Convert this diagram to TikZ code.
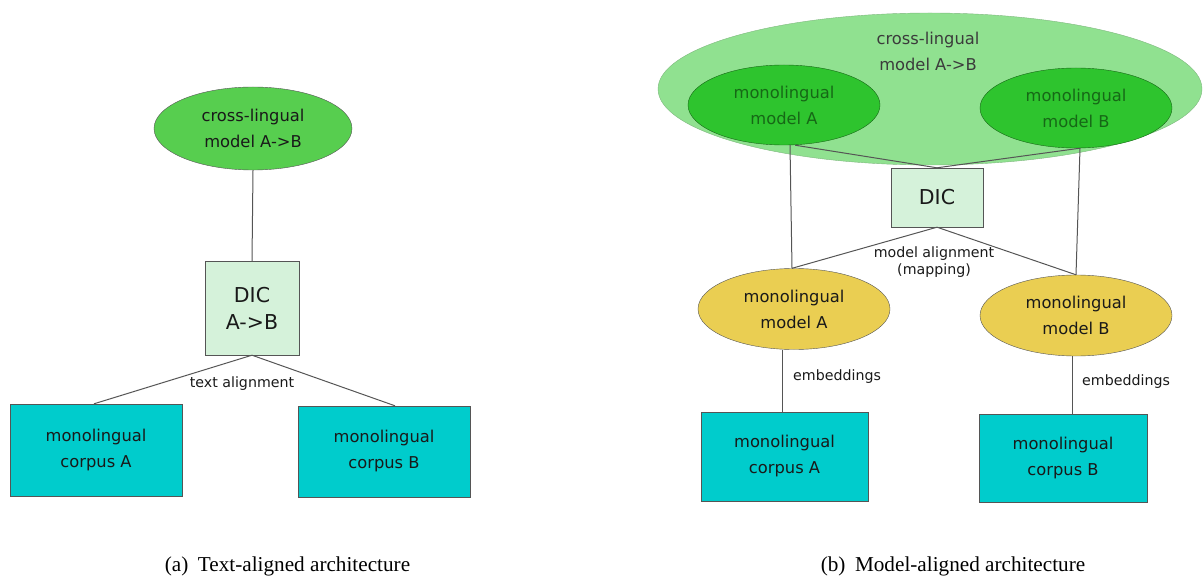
\documentclass[tikz,border=0pt]{standalone}
\usepackage{fontspec}
\setmainfont{Liberation Serif}
\newfontfamily\diafont{DejaVu Sans}
\usetikzlibrary{shapes.geometric}

\definecolor{crossgreen}{RGB}{87,206,79}
\definecolor{biggreen}{RGB}{144,225,144}
\definecolor{monogreen}{RGB}{46,196,46}
\definecolor{monodark}{RGB}{22,104,22}
\definecolor{dicfill}{RGB}{213,242,218}
\definecolor{modelyellow}{RGB}{234,206,82}
\definecolor{corpuscyan}{RGB}{0,204,204}
\definecolor{linegray}{RGB}{85,85,85}
\definecolor{textdark}{RGB}{25,25,25}

\begin{document}
\begin{tikzpicture}[x=1pt, y=-1pt]
      \tikzstyle{STY1} = [draw=linegray, ellipse, inner sep=0pt, minimum width=192pt, minimum height=81pt, align=center, text=textdark, font=\diafont\fontsize{16.3}{26}\selectfont]
      \tikzstyle{STY2} = [draw=linegray, rectangle, inner sep=0pt, align=center, text=textdark, font=\diafont\fontsize{16.3}{26}\selectfont]
      \tikzstyle{STY3} = [draw=linegray, rectangle, inner sep=0pt, fill=dicfill, align=center, text=textdark, font=\diafont\fontsize{20.5}{27}\selectfont]
      \tikzstyle{STY4} = [inner sep=0pt, align=center, text=textdark, font=\diafont\fontsize{14.2}{17}\selectfont]
      \tikzstyle{STY5} = [draw=linegray, line width=1pt]
      \tikzstyle{STY6} = [inner sep=0pt, anchor=base, font=\fontsize{21.2}{24}\selectfont]

      \useasboundingbox (0,0) rectangle (1204,577);

      %%%%% VERTEX (a)

      \node[STY1, fill=crossgreen, minimum width=198pt, minimum height=83pt](v0) at (253, 128.5) {cross-lingual\\model A->B};

      \node[STY3, minimum width=94pt, minimum height=94pt](v1) at (252, 308) {DIC\\A->B};

      \node[STY2, fill=corpuscyan, minimum width=172pt, minimum height=92pt](v2) at (96, 450) {monolingual\\corpus A};
      \node[STY2, fill=corpuscyan, minimum width=172pt, minimum height=91pt](v3) at (384, 451.5) {monolingual\\corpus B};

      \node[STY4](t0) at (242, 384) {text alignment};

      %%%%% VERTEX (b)

      \node[STY1, draw=biggreen!70!linegray, fill=biggreen, minimum width=544pt, minimum height=152pt](v4) at (930, 89) {};
      \node[STY4, font=\diafont\fontsize{16.3}{26}\selectfont, text=textdark!85](t1) at (928, 51) {cross-lingual\\model A->B};

      \node[STY1, draw=monodark, fill=monogreen, text=monodark, minimum height=80pt](v5) at (784, 105) {monolingual\\model A};
      \node[STY1, draw=monodark, fill=monogreen, text=monodark, minimum height=80pt](v6) at (1076, 108) {monolingual\\model B};

      \node[STY3, minimum width=92pt, minimum height=59pt](v7) at (937, 197.5) {DIC};

      \node[STY1, fill=modelyellow](v8) at (794, 309) {monolingual\\model A};
      \node[STY1, fill=modelyellow](v9) at (1076, 315.5) {monolingual\\model B};

      \node[STY2, fill=corpuscyan, minimum width=167pt, minimum height=89pt](v10) at (784.5, 456.5) {monolingual\\corpus A};
      \node[STY2, fill=corpuscyan, minimum width=168pt, minimum height=88pt](v11) at (1063, 458) {monolingual\\corpus B};

      \node[STY4](t2) at (934, 262) {model alignment\\(mapping)};
      \node[STY4, anchor=west](t3) at (793, 377) {embeddings};
      \node[STY4, anchor=west](t4) at (1082, 382) {embeddings};

      %%%%% EDGES (a)
      \draw[STY5]  (v0.south) edge (v1.north);
      \draw[STY5]  (v1.south) edge ([xshift=-2pt]v2.north);
      \draw[STY5]  (v1.south) edge ([xshift=11pt]v3.north);

      %%%%% EDGES (b)
      \draw[STY5]  ([xshift=11pt]v5.south) edge (v7.north);
      \draw[STY5]  ([xshift=4pt]v6.south) edge (v7.north);
      \draw[STY5]  ([xshift=6pt]v5.south) edge ([xshift=-2pt]v8.north);
      \draw[STY5]  ([xshift=4pt]v6.south) edge (v9.north);

      \draw[STY5]  (v7.south) edge ([xshift=-2pt]v8.north);
      \draw[STY5]  (v7.south) edge (v9.north);

      \draw[STY5]  ([xshift=-12pt]v8.south) edge (v10.north -| 782, 0);
      \draw[STY5]  ([xshift=-4pt]v9.south) edge (v11.north -| 1072, 0);

      %%%%% CAPTIONS
      \node[STY6](c0) at (287.5, 571) {(a)\hspace{0.45em}Text-aligned architecture};
      \node[STY6](c1) at (953, 571) {(b)\hspace{0.45em}Model-aligned architecture};
\end{tikzpicture}
\end{document}
